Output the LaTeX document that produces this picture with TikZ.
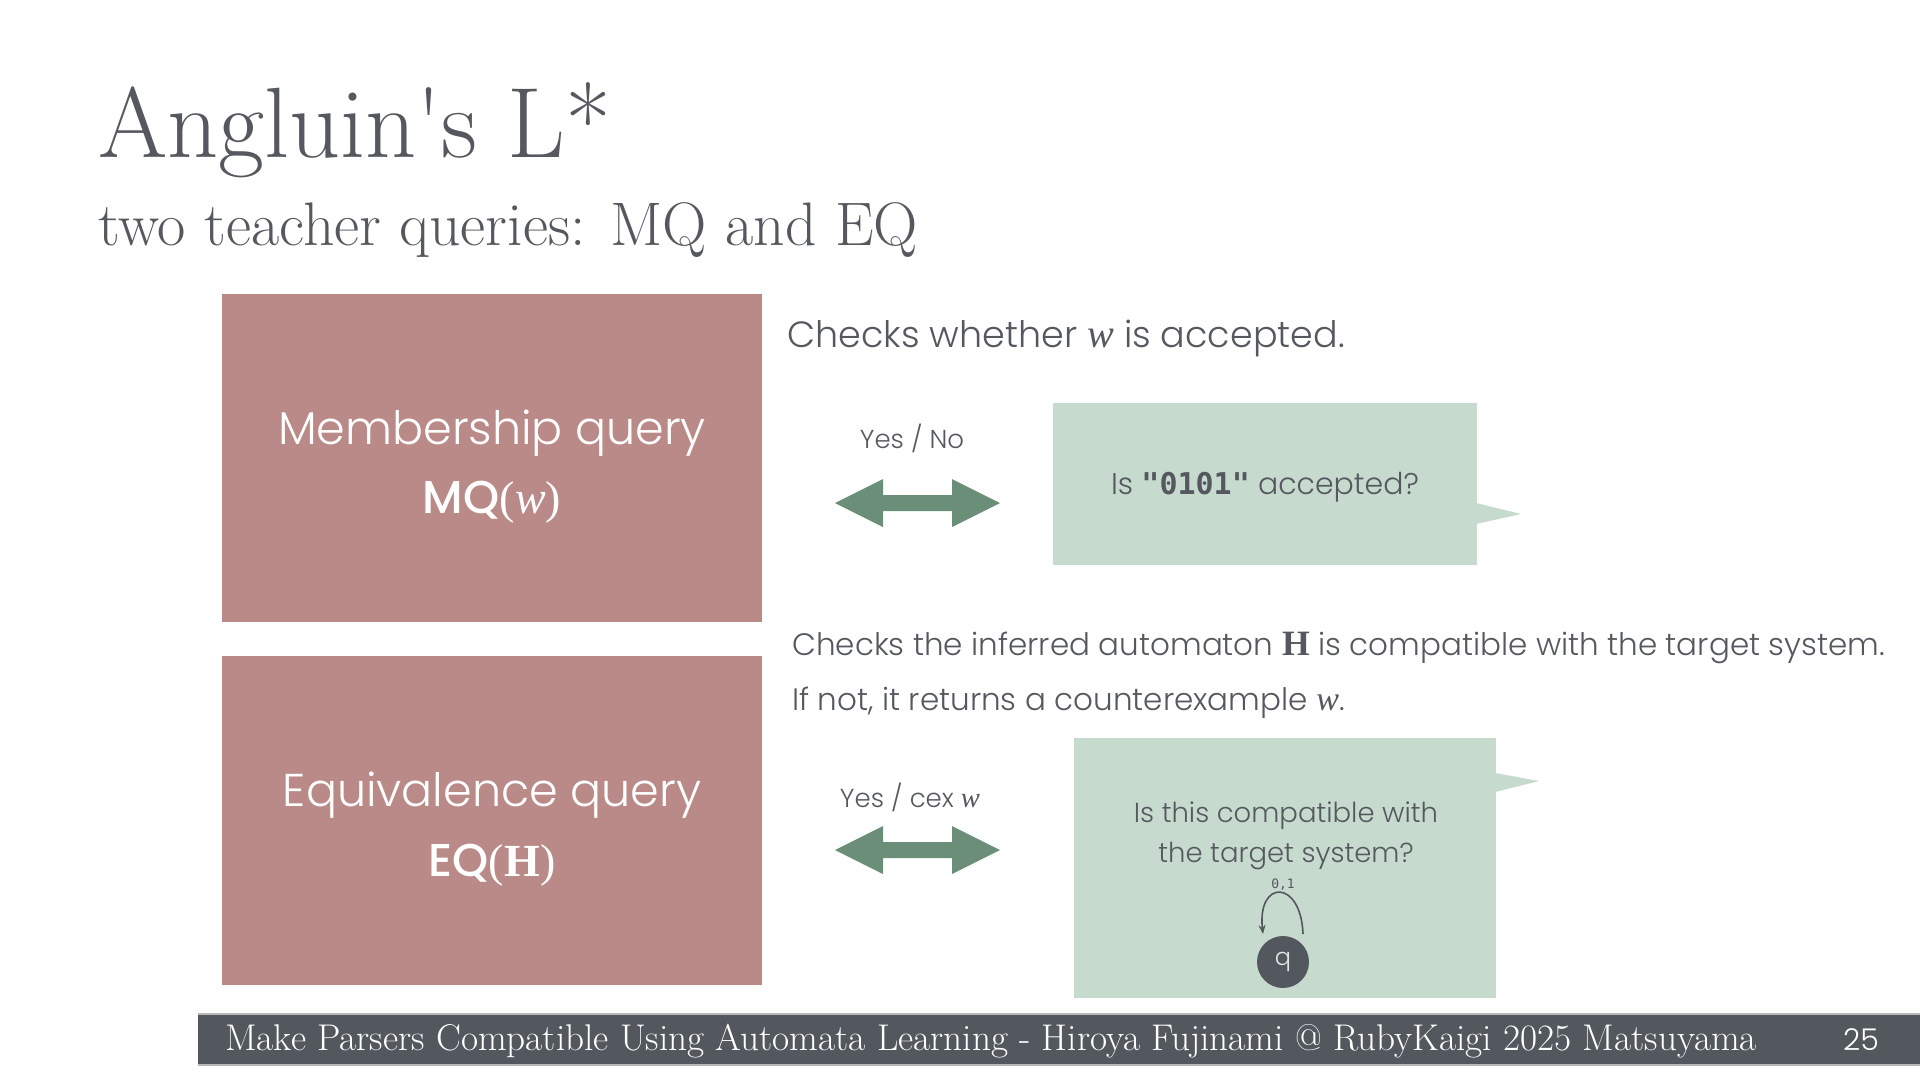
\documentclass[tikz,border=0pt]{standalone}
\usepackage{fontspec}
\usetikzlibrary{arrows.meta,calc}
\newfontfamily\bodyfont{Poppins}[UprightFont=* Light, BoldFont=* Medium]
\newfontfamily\codefont{DejaVu Sans Mono}
\newfontfamily\serifmath{Liberation Serif}
\newcommand{\vw}{{\serifmath\itshape\scalebox{1.1}{w}}}
\newcommand{\vH}{{\serifmath\bfseries\scalebox{1.15}{H}}}
\definecolor{titlegray}{HTML}{55585E}
\definecolor{txtgray}{HTML}{55595F}
\definecolor{redfill}{HTML}{B98A88}
\definecolor{greenfill}{HTML}{C6DBCE}
\definecolor{arrowgreen}{HTML}{6B8E78}
\definecolor{darkbar}{HTML}{53575E}
\tikzset{
  redbox/.style={fill=redfill, draw=none, inner sep=0pt},
  greenbox/.style={fill=greenfill, draw=none, inner sep=0pt},
  boxtext/.style={text=white, font=\bodyfont\fontsize{46}{50}\selectfont, inner sep=0pt},
  desc/.style={text=txtgray, anchor=west, inner sep=0pt, font=\bodyfont\fontsize{36.5}{40}\selectfont},
  bubbletext/.style={text=txtgray, inner sep=0pt, align=center, font=\bodyfont\fontsize{30}{40}\selectfont},
  arrowlabel/.style={text=txtgray, inner sep=0pt, font=\bodyfont\fontsize{26}{30}\selectfont},
  dblarrow/.style={fill=arrowgreen, draw=none},
  statenode/.style={circle, fill=darkbar, minimum size=52pt, inner sep=0pt, text=white!85!darkbar, font=\bodyfont\fontsize{24}{26}\selectfont},
  loopline/.style={draw=darkbar, line width=1.6pt, -{Stealth[length=9pt,width=7pt]}},
}
\begin{document}
\begin{tikzpicture}[x=1pt,y=-1pt]
\useasboundingbox (0,0) rectangle (1920,1080);
\fill[white] (0,0) rectangle (1920,1080);

% title
\node[anchor=base west, inner sep=0pt, text=titlegray, font=\fontsize{100}{110}\selectfont] (title) at (98,157) {Angluin\textquotesingle s L*};
\node[anchor=base west, inner sep=0pt, text=titlegray, font=\fontsize{61.5}{64}\selectfont] (subtitle) at (98,245) {two teacher queries: MQ and EQ};

% red boxes
\node[redbox, minimum width=540pt, minimum height=328pt] (mqbox) at (492,458) {};
\node[boxtext] (mqt1) at (492,433) {Membership query};
\node[boxtext] (mqt2) at (492,502) {\textbf{MQ}{\serifmath(\textit{w})}};
\node[redbox, minimum width=540pt, minimum height=329pt] (eqbox) at (492,820.5) {};
\node[boxtext] (eqt1) at (492,795) {Equivalence query};
\node[boxtext] (eqt2) at (492,865) {\textbf{EQ}{\serifmath(\textbf{H})}};

% descriptions
\node[desc] (mqdesc) at (787,338) {Checks whether \vw{} is accepted.};
\node[desc, font=\bodyfont\fontsize{31}{40}\selectfont] (eqdesc1) at (792,648) {Checks the inferred automaton \vH{} is compatible with the target system.};
\node[desc, font=\bodyfont\fontsize{31}{40}\selectfont] (eqdesc2) at (792,703) {If not, it returns a counterexample \vw.};

% arrows
\node[arrowlabel] (mqlab) at (912,438) {Yes / No};
\fill[dblarrow] (835,503) -- (883,479) -- (883,495) -- (952,495) -- (952,479) -- (1000,503)
  -- (952,527) -- (952,511) -- (883,511) -- (883,527) -- cycle;
\node[arrowlabel] (eqlab) at (910,797) {Yes / cex \vw};
\fill[dblarrow] (835,850) -- (883,826) -- (883,842) -- (952,842) -- (952,826) -- (1000,850)
  -- (952,874) -- (952,858) -- (883,858) -- (883,874) -- cycle;

% green bubbles
\node[greenbox, minimum width=424pt, minimum height=162pt] (mqbub) at (1265,484) {};
\fill[greenfill] ($(mqbub.east)+(-1,19)$) -- (1521,514) -- ($(mqbub.east)+(-1,40)$) -- cycle;
\node[bubbletext] (mqq) at (1265,487) {Is {\codefont\bfseries"0101"} accepted?};

\node[greenbox, minimum width=422pt, minimum height=260pt] (eqbub) at (1285,868) {};
\fill[greenfill] ($(eqbub.east)+(-1,-95)$) -- (1539,781) -- ($(eqbub.east)+(-1,-76)$) -- cycle;
\node[bubbletext, font=\bodyfont\fontsize{27.5}{40}\selectfont] (eqq) at (1286,836) {Is this compatible with\\the target system?};

\node[statenode] (q) at (1283,962) {q};
\draw[loopline] ($(q.center)+(20,-28)$) .. controls +(-2,-55) and +(-6,-55) .. ($(q.center)+(-20,-28)$);
\node[inner sep=0pt, text=darkbar, font=\codefont\fontsize{13}{13}\selectfont] (looplab) at (1283,885) {0,1};

% footer
\fill[darkbar] (198,1014) rectangle (1920,1065);
\draw[gray!55, line width=1.5pt] (198,1014) -- (1920,1014);
\draw[gray!55, line width=1.5pt] (198,1065) -- (1920,1065);
\node[anchor=west, inner sep=0pt, text=white, font=\fontsize{37.2}{40}\selectfont] (foot) at (225,1041) {Make Parsers Compatible Using Automata Learning - Hiroya Fujinami @ RubyKaigi 2025 Matsuyama};
\node[inner sep=0pt, text=white, font=\bodyfont\fontsize{30}{32}\selectfont] (page) at (1861,1040) {25};
\end{tikzpicture}
\end{document}
